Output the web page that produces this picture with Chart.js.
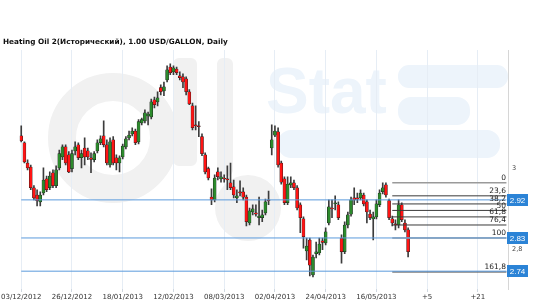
<!DOCTYPE html>
<html>
<head>
<meta charset="utf-8">
<script src="https://cdn.jsdelivr.net/npm/chart.js@4.4.0/dist/chart.umd.min.js"></script>
<style>
  html, body { margin: 0; padding: 0; background: #fff; }
</style>
</head>
<body>
<canvas id="chart" width="550" height="307"></canvas>
<script>
// Heating Oil 2 daily candles with Fibonacci levels

const TITLE = "Heating Oil 2(Исторический), 1.00 USD/GALLON, Daily";

// x axis: one tick every 16 bars, last two are future bars
const tickLabels = ["03/12/2012", "26/12/2012", "18/01/2013", "12/02/2013", "08/03/2013",
  "02/04/2013", "24/04/2013", "16/05/2013", "+5", "+21"];
const BAR_SLOTS = 154;
const TICK_STEP = 16;

const open = [3.079,3.062,3.012,3.002,2.951,2.933,2.916,2.938,2.973,2.951,
  2.988,2.956,3.000,3.027,3.052,3.032,2.998,3.042,3.057,3.025,
  3.049,3.042,3.025,3.020,3.042,3.062,3.079,3.057,3.007,3.069,
  3.025,3.012,3.027,3.052,3.074,3.084,3.091,3.064,3.111,3.116,
  3.128,3.126,3.168,3.163,3.198,3.190,3.217,3.249,3.237,3.244,
  3.227,3.225,3.220,3.188,3.153,3.106,3.104,3.077,3.032,2.998,
  2.928,2.921,2.990,2.973,2.975,2.973,2.963,2.953,2.926,2.941,
  2.941,2.928,2.864,2.891,2.889,2.877,2.877,2.889,2.921,3.049,
  3.081,3.089,3.012,2.973,2.914,2.958,2.963,2.951,2.909,2.874,
  2.795,2.822,2.736,2.788,2.790,2.820,2.815,2.864,2.901,2.911,
  2.909,2.827,2.793,2.859,2.886,2.926,2.926,2.926,2.933,2.916,
  2.886,2.874,2.879,2.909,2.941,2.958,2.919,2.874,2.862,2.859,
  2.909,2.864,2.847];

const high = [3.104,3.064,3.020,3.007,2.956,2.946,2.941,3.000,2.980,2.990,
  2.995,3.005,3.044,3.057,3.057,3.040,3.044,3.064,3.062,3.044,
  3.074,3.049,3.037,3.040,3.069,3.079,3.116,3.069,3.074,3.077,
  3.032,3.030,3.059,3.077,3.091,3.099,3.096,3.119,3.123,3.143,
  3.138,3.170,3.175,3.188,3.205,3.212,3.252,3.257,3.252,3.249,
  3.237,3.232,3.225,3.193,3.160,3.153,3.114,3.084,3.037,3.002,
  2.948,2.983,3.000,2.990,2.983,3.005,3.012,2.970,2.946,2.968,
  2.951,2.933,2.901,2.909,2.909,2.928,2.896,2.923,2.943,3.106,
  3.104,3.099,3.017,2.978,2.978,2.978,2.970,2.956,2.914,2.879,
  2.827,2.827,2.785,2.817,2.827,2.827,2.852,2.921,2.921,2.931,
  2.916,2.835,2.867,2.891,2.928,2.951,2.938,2.946,2.938,2.921,
  2.896,2.891,2.921,2.946,2.963,2.963,2.923,2.881,2.872,2.921,
  2.914,2.872,2.852];

const low = [3.064,3.012,2.995,2.946,2.921,2.906,2.906,2.933,2.941,2.946,
  2.951,2.951,2.995,3.020,3.007,2.988,2.990,3.032,3.020,3.000,
  3.007,3.020,2.988,3.015,3.037,3.057,3.052,3.007,3.002,3.007,
  2.995,2.990,3.022,3.047,3.069,3.079,3.057,3.059,3.106,3.111,
  3.106,3.121,3.148,3.153,3.180,3.178,3.212,3.230,3.230,3.230,
  3.217,3.198,3.180,3.156,3.094,3.094,3.077,3.030,2.985,2.970,
  2.909,2.916,2.970,2.965,2.965,2.946,2.946,2.926,2.914,2.931,
  2.921,2.857,2.859,2.884,2.881,2.859,2.867,2.884,2.909,3.032,
  3.077,3.002,2.960,2.909,2.909,2.951,2.946,2.896,2.840,2.802,
  2.773,2.733,2.731,2.778,2.785,2.798,2.810,2.859,2.877,2.896,
  2.872,2.765,2.788,2.852,2.881,2.909,2.914,2.921,2.906,2.864,
  2.872,2.822,2.874,2.904,2.936,2.928,2.872,2.857,2.847,2.852,
  2.867,2.842,2.780];

const close = [3.067,3.015,3.000,2.951,2.926,2.919,2.933,2.970,2.946,2.980,
  2.956,2.995,3.035,3.052,3.012,2.990,3.035,3.052,3.025,3.035,
  3.027,3.027,3.021,3.035,3.062,3.072,3.057,3.012,3.064,3.012,
  3.012,3.025,3.054,3.072,3.081,3.091,3.062,3.114,3.119,3.136,
  3.133,3.163,3.156,3.173,3.188,3.200,3.242,3.235,3.247,3.235,
  3.223,3.212,3.188,3.158,3.099,3.104,3.102,3.035,2.990,2.975,
  2.921,2.975,2.978,2.978,2.973,2.970,2.951,2.933,2.931,2.938,
  2.928,2.867,2.894,2.899,2.886,2.881,2.884,2.916,2.919,3.069,
  3.091,3.007,2.965,2.914,2.960,2.963,2.951,2.901,2.877,2.830,
  2.807,2.760,2.780,2.793,2.812,2.816,2.842,2.904,2.899,2.914,
  2.877,2.793,2.859,2.884,2.921,2.921,2.923,2.938,2.911,2.891,
  2.877,2.879,2.911,2.938,2.951,2.933,2.877,2.864,2.859,2.909,
  2.872,2.847,2.793];

// right axis
const yTicks = [2.8, 3];
const Y_MIN = 2.701;
const Y_MAX = 3.291;

// horizontal price lines with blue tags
const priceLevels = [2.921, 2.827, 2.745];
const priceTags = ["2.92", "2.83", "2.74"];

// fibonacci retracement
const fibTags = ["0", "23,6", "38,2", "50", "61,8", "76,4", "100", "161,8"];
const fibPrices = [2.963, 2.931, 2.911, 2.895, 2.879, 2.859, 2.827, 2.743];
const FIB_START = 117;

const UP = "#2c8a2c";
const DOWN = "#ff1414";

const categories = Array.from({ length: BAR_SLOTS }, (_, i) =>
  i % TICK_STEP === 0 ? tickLabels[i / TICK_STEP] : "b" + i);

const bodies = open.map((o, i) => [o, close[i]]);
const wicks = low.map((l, i) => [l, high[i]]);
const bodyColors = open.map((o, i) => close[i] >= o ? UP : DOWN);

const lastCat = categories[BAR_SLOTS - 1];

const priceLineSets = priceLevels.map(v => ({
  type: "line",
  data: [{ x: categories[0], y: v }, { x: lastCat, y: v }],
  borderColor: "#5b9bdc",
  borderWidth: 1,
  pointRadius: 0,
  order: 0
}));

const fibLineSets = fibPrices.map((v, k) => ({
  type: "line",
  data: [{ x: categories[FIB_START], y: v }, { x: lastCat, y: v }],
  borderColor: (k === 0 || k === 6) ? "#9a9a9a" : "#3a3a3a",
  borderWidth: (k === 0 || k === 6) ? 1.5 : 1,
  pointRadius: 0,
  order: 0
}));

// faint OilStat watermark behind grid and plot
const watermark = {
  id: "watermark",
  beforeDraw(chart) {
    const ctx = chart.ctx;
    ctx.save();
    ctx.fillStyle = "#f1f1f1";
    ctx.strokeStyle = "#f1f1f1";
    ctx.lineWidth = 28;
    ctx.beginPath();
    ctx.arc(113, 138, 51, 0, Math.PI * 2);
    ctx.stroke();
    ctx.beginPath();
    ctx.roundRect(173, 58, 24, 108, 6);
    ctx.roundRect(217, 58, 16, 118, 6);
    ctx.fill();
    ctx.beginPath();
    ctx.arc(248, 208, 33, 0, Math.PI * 2);
    ctx.fill();

    ctx.fillStyle = "#edf4fb";
    ctx.font = "bold 64px 'Liberation Sans'";
    ctx.textBaseline = "alphabetic";
    ctx.fillText("Stat", 266, 113);
    ctx.beginPath();
    ctx.roundRect(398, 65, 110, 23, 11);
    ctx.roundRect(398, 97, 72, 28, 13);
    ctx.roundRect(278, 130, 222, 28, 13);
    ctx.fill();
    ctx.restore();
  }
};

// title, fibonacci labels and price tags
const overlay = {
  id: "overlay",
  afterDraw(chart) {
    const ctx = chart.ctx;
    const area = chart.chartArea;
    const y = chart.scales.y;
    ctx.save();

    ctx.fillStyle = "#111";
    ctx.font = "bold 7.3px 'DejaVu Sans'";
    ctx.textBaseline = "middle";
    ctx.textAlign = "left";
    ctx.fillText(TITLE, 3, 42);

    ctx.font = "7.5px 'DejaVu Sans'";
    ctx.fillStyle = "#222";
    ctx.textAlign = "right";
    ctx.textBaseline = "bottom";
    fibPrices.forEach((v, k) => {
      ctx.fillText(fibTags[k], area.right - 2, y.getPixelForValue(v) - 1);
    });

    ctx.font = "8px 'Liberation Sans'";
    ctx.textAlign = "center";
    ctx.textBaseline = "middle";
    priceLevels.forEach((v, k) => {
      const py = Math.round(y.getPixelForValue(v));
      ctx.fillStyle = "#2b83d6";
      ctx.fillRect(area.right - 1, py - 6, 21, 12);
      ctx.fillStyle = "#fff";
      ctx.fillText(priceTags[k], area.right + 9.5, py + 0.5);
    });
    ctx.restore();
  }
};

new Chart(document.getElementById("chart"), {
  type: "bar",
  data: {
    labels: categories,
    datasets: [
      {
        data: bodies,
        backgroundColor: bodyColors,
        borderColor: "#1c1c1c",
        borderWidth: 0.5,
        borderSkipped: false,
        barThickness: 3,
        grouped: false,
        order: 1
      },
      {
        data: wicks,
        backgroundColor: "#3c3c3c",
        barThickness: 1,
        grouped: false,
        order: 2
      },
      ...priceLineSets,
      ...fibLineSets
    ]
  },
  options: {
    responsive: false,
    devicePixelRatio: 1,
    animation: false,
    layout: { padding: { left: 19.5, top: 50, right: 0, bottom: 0 } },
    plugins: {
      legend: { display: false },
      tooltip: { enabled: false }
    },
    scales: {
      x: {
        type: "category",
        offset: true,
        border: { display: false },
        grid: { offset: false, color: "#e6edf5", tickLength: 3, tickColor: "#d0d8e0" },
        ticks: {
          autoSkip: false,
          maxRotation: 0,
          padding: 1,
          color: "#333",
          font: { family: "DejaVu Sans", size: 7 }
        },
        afterBuildTicks: (scale) => {
          scale.ticks = scale.ticks.filter(t => t.value % TICK_STEP === 0);
        },
        afterFit: (scale) => { scale.height = 18; }
      },
      y: {
        position: "right",
        min: Y_MIN,
        max: Y_MAX,
        border: { display: true, color: "#d6d6d6" },
        grid: { drawOnChartArea: false, tickLength: 3, tickColor: "rgba(0,0,0,0)" },
        ticks: {
          padding: 1,
          color: "#444",
          font: { family: "DejaVu Sans", size: 6.5 },
          callback: (v) => String(v).replace(".", ",")
        },
        afterBuildTicks: (scale) => {
          scale.ticks = yTicks.map(v => ({ value: v }));
        },
        afterFit: (scale) => { scale.width = 42; }
      }
    }
  },
  plugins: [watermark, overlay]
});
</script>
</body>
</html>
